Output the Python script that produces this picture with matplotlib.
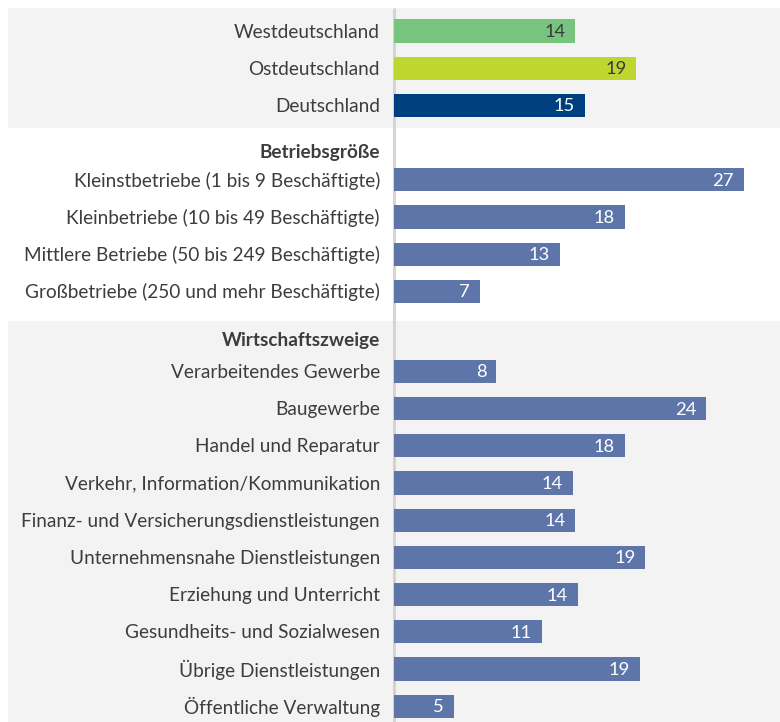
import matplotlib
matplotlib.use("Agg")
import matplotlib.pyplot as plt
from matplotlib.patches import Rectangle
import matplotlib.transforms as mtransforms

# ---- data ----
region_labels = ["Westdeutschland", "Ostdeutschland", "Deutschland"]
region_values = [14.0, 18.7, 14.7]
region_colors = ["#78C47F", "#BED62F", "#003F7F"]
region_text_colors = ["#3a3a3a", "#3a3a3a", "#ffffff"]

size_header = "Betriebsgröße"
size_labels = ["Kleinstbetriebe (1 bis 9 Beschäftigte)",
               "Kleinbetriebe (10 bis 49 Beschäftigte)",
               "Mittlere Betriebe (50 bis 249 Beschäftigte)",
               "Großbetriebe (250 und mehr Beschäftigte)"]
size_values = [27.0, 17.8, 12.8, 6.6]

sector_header = "Wirtschaftszweige"
sector_labels = ["Verarbeitendes Gewerbe", "Baugewerbe", "Handel und Reparatur",
                 "Verkehr, Information/Kommunikation",
                 "Finanz- und Versicherungsdienstleistungen",
                 "Unternehmensnahe Dienstleistungen", "Erziehung und Unterricht",
                 "Gesundheits- und Sozialwesen", "Übrige Dienstleistungen",
                 "Öffentliche Verwaltung"]
sector_values = [7.9, 24.1, 17.8, 13.8, 14.0, 19.4, 14.2, 11.4, 19.0, 4.6]

BAR_BLUE = "#5D75A9"
BAND = "#F3F3F3"
TXT = "#3d3d3d"

# ---- layout (slot units) ----
region_pos = [0, 1, 2]
size_header_pos = 3.23
size_pos = [4, 5, 6, 7]
sector_header_pos = 8.28
sector_pos = [9.15 + i for i in range(len(sector_labels))]

plt.rcParams["font.family"] = ["Lato", "DejaVu Sans"]

W, H = 780, 722
fig = plt.figure(figsize=(W / 100, H / 100), dpi=100)
x0px = 394
ax = fig.add_axes([x0px / W, 0, (W - x0px) / W, 1])
px_per_unit = 12.96
ax.set_xlim(0, (W - x0px) / px_per_unit)
slot = 37.2
ax.set_ylim((H - 31) / slot, -31 / slot)
ax.axis("off")

# background bands spanning figure width
trans = mtransforms.blended_transform_factory(fig.transFigure, ax.transData)
for top, bot, col in [(-0.62, 2.61, BAND), (2.61, 7.80, "white"), (7.80, 18.6, BAND)]:
    ax.add_patch(Rectangle((8 / W, top), 1, bot - top, transform=trans,
                           facecolor=col, edgecolor="none", zorder=0, clip_on=False))

# axis line
ax.plot([0, 0], [-0.62, 18.6], color="#d4d4d4", lw=2.2, zorder=1, solid_capstyle="butt",
        clip_on=False)

bh = 0.62
fs = 13.7

def draw(pos, labels, values, colors, tcols):
    for p, lab, v, c, tc in zip(pos, labels, values, colors, tcols):
        ax.barh(p, v, height=bh, color=c, zorder=2)
        ax.annotate(f"{round(v):d}", (v, p), xytext=(-10, -1), textcoords="offset pixels",
                    ha="right", va="center", color=tc, fontsize=fs - 0.5, zorder=3)
        ax.annotate(lab, (0, p), xytext=(-14, -1), textcoords="offset pixels",
                    ha="right", va="center", color=TXT, fontsize=fs, annotation_clip=False)

draw(region_pos, region_labels, region_values, region_colors, region_text_colors)
draw(size_pos, size_labels, size_values, [BAR_BLUE] * 4, ["white"] * 4)
draw(sector_pos, sector_labels, sector_values, [BAR_BLUE] * 10, ["white"] * 10)

for p, lab in [(size_header_pos, size_header), (sector_header_pos, sector_header)]:
    ax.annotate(lab, (0, p), xytext=(-14, -1), textcoords="offset pixels",
                ha="right", va="center", color=TXT, fontsize=fs, fontweight="bold",
                annotation_clip=False)

fig.savefig("out.png", dpi=100)
